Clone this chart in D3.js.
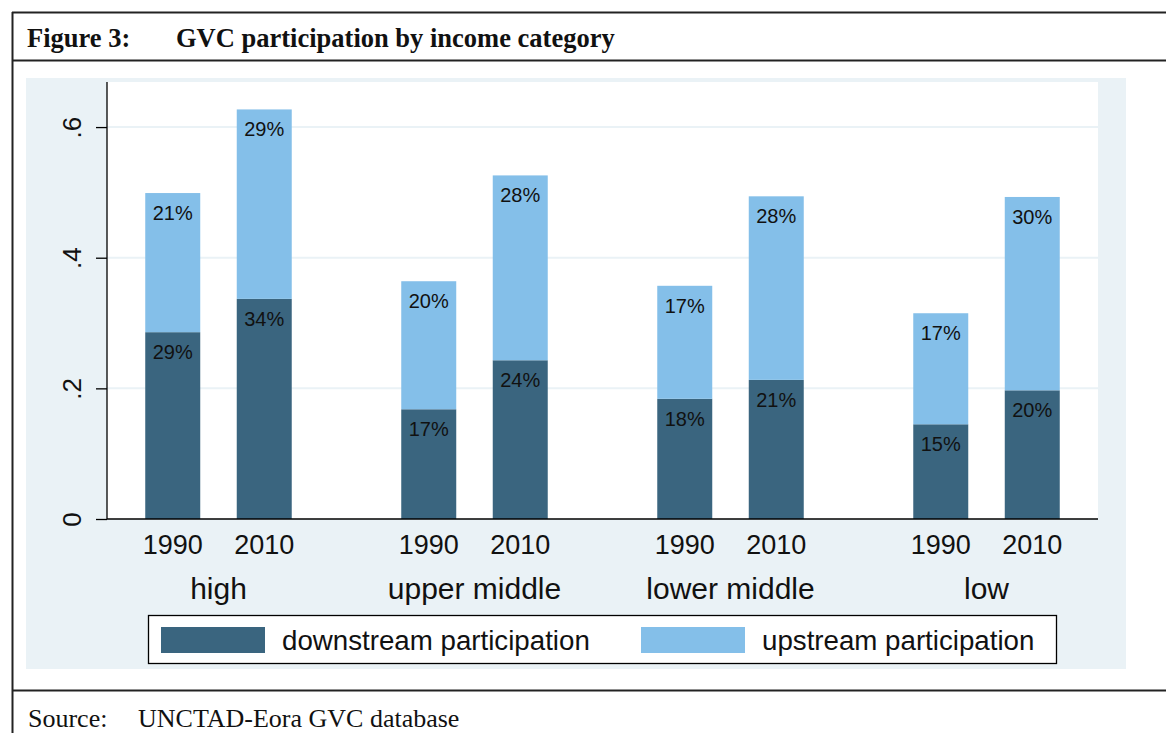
<!DOCTYPE html>
<html>
<head>
<meta charset="utf-8">
<script src="https://cdn.jsdelivr.net/npm/d3@7"></script>
<style>
  html, body { margin: 0; padding: 0; background: #fff; }
  svg { display: block; }
</style>
</head>
<body>
<svg id="chart" width="1166" height="733"></svg>
<script>
const groups = ["high", "upper middle", "lower middle", "low"];
const years = ["1990", "2010"];
// downstream participation (share), by group then year
const downstream = [0.286, 0.337, 0.168, 0.243, 0.184, 0.213, 0.145, 0.197];
// upstream participation (share), by group then year
const upstream = [0.213, 0.290, 0.196, 0.283, 0.173, 0.281, 0.170, 0.296];
const downLabels = ["29%", "34%", "17%", "24%", "18%", "21%", "15%", "20%"];
const upLabels = ["21%", "29%", "20%", "28%", "17%", "28%", "17%", "30%"];
const yTicks = [0, 0.2, 0.4, 0.6];
const yTickLabels = ["0", ".2", ".4", ".6"];
const seriesNames = ["downstream participation", "upstream participation"];

const colDown = "#3a657f";
const colUp = "#84bfe9";
const bgCol = "#eaf2f6";

const svg = d3.select("#chart");

// frame
svg.append("line").attr("x1", 12.5).attr("x2", 12.5).attr("y1", 12).attr("y2", 733).attr("stroke", "#222").attr("stroke-width", 2);
svg.append("line").attr("x1", 12).attr("x2", 1166).attr("y1", 12.5).attr("y2", 12.5).attr("stroke", "#222").attr("stroke-width", 2);
svg.append("line").attr("x1", 12).attr("x2", 1166).attr("y1", 60.5).attr("y2", 60.5).attr("stroke", "#222").attr("stroke-width", 2);
svg.append("line").attr("x1", 12).attr("x2", 1166).attr("y1", 690.5).attr("y2", 690.5).attr("stroke", "#222").attr("stroke-width", 2);

const title = svg.append("g").attr("font-family", "'Liberation Serif', 'Times New Roman', serif")
  .attr("font-weight", "bold").attr("font-size", 26.5).attr("fill", "#111");
title.append("text").attr("x", 27).attr("y", 47).text("Figure 3:");
title.append("text").attr("x", 176).attr("y", 47).text("GVC participation by income category");

const src = svg.append("g").attr("font-family", "'Liberation Serif', 'Times New Roman', serif")
  .attr("font-size", 26).attr("fill", "#111");
src.append("text").attr("x", 28).attr("y", 727).text("Source:");
src.append("text").attr("x", 138).attr("y", 727).text("UNCTAD-Eora GVC database");

// chart background
svg.append("rect").attr("x", 26).attr("y", 78).attr("width", 1100).attr("height", 591).attr("fill", bgCol);

const plot = { left: 107, right: 1098, top: 82, bottom: 519 };
svg.append("rect").attr("x", plot.left).attr("y", plot.top)
  .attr("width", plot.right - plot.left).attr("height", plot.bottom - plot.top).attr("fill", "#fff");

const y = d3.scaleLinear().domain([0, 0.669]).range([plot.bottom, plot.top]);
const x0 = d3.scalePoint().domain(groups).range([plot.left, plot.right]).padding(0.4355);
const x1 = d3.scaleBand().domain(years).range([-91.5, 91.5]).paddingInner(0.399).paddingOuter(0.1995);

// gridlines
svg.append("g").selectAll("line").data(yTicks.filter(t => t > 0)).join("line")
  .attr("x1", plot.left).attr("x2", plot.right)
  .attr("y1", d => y(d)).attr("y2", d => y(d))
  .attr("stroke", bgCol).attr("stroke-width", 2);

// y axis
const yAxis = svg.append("g").attr("transform", `translate(${plot.left},0)`)
  .call(d3.axisLeft(y).tickValues(yTicks).tickSize(11).tickPadding(0).tickFormat((d, i) => yTickLabels[i]));
yAxis.select(".domain").attr("stroke", "#000").attr("stroke-width", 1.3).attr("d", `M0,${plot.top}V${plot.bottom}`);
yAxis.selectAll(".tick line").attr("stroke", "#000").attr("stroke-width", 1.3);
yAxis.selectAll(".tick text").remove();
yAxis.selectAll(".tick").append("text")
  .attr("transform", "translate(-35,0) rotate(-90)")
  .attr("text-anchor", "middle").attr("dominant-baseline", "central")
  .attr("font-family", "'Liberation Sans', Arial, sans-serif").attr("font-size", 26).attr("fill", "#111")
  .text((d, i) => yTickLabels[i]);

// data rows
const rows = [];
groups.forEach((g, gi) => years.forEach((yr, yi) => {
  const k = gi * years.length + yi;
  rows.push({ g, yr, down: downstream[k], up: upstream[k], dl: downLabels[k], ul: upLabels[k] });
}));

const bars = svg.append("g");
const bw = x1.bandwidth();
const bx = d => x0(d.g) + x1(d.yr);

bars.selectAll("rect.down").data(rows).join("rect").attr("class", "down")
  .attr("x", bx).attr("width", bw)
  .attr("y", d => y(d.down)).attr("height", d => y(0) - y(d.down)).attr("fill", colDown);
bars.selectAll("rect.up").data(rows).join("rect").attr("class", "up")
  .attr("x", bx).attr("width", bw)
  .attr("y", d => y(d.down + d.up)).attr("height", d => y(d.down) - y(d.down + d.up)).attr("fill", colUp);

const lab = svg.append("g").attr("font-family", "'Liberation Sans', Arial, sans-serif")
  .attr("font-size", 20).attr("fill", "#111").attr("text-anchor", "middle").attr("dominant-baseline", "central");
lab.selectAll("text.dl").data(rows).join("text").attr("class", "dl")
  .attr("x", d => bx(d) + bw / 2).attr("y", d => y(d.down) + 20).text(d => d.dl);
lab.selectAll("text.ul").data(rows).join("text").attr("class", "ul")
  .attr("x", d => bx(d) + bw / 2).attr("y", d => y(d.down + d.up) + 20).text(d => d.ul);

// x axis line
svg.append("line").attr("x1", plot.left).attr("x2", plot.right)
  .attr("y1", plot.bottom).attr("y2", plot.bottom).attr("stroke", "#000").attr("stroke-width", 1.3);

const xl = svg.append("g").attr("font-family", "'Liberation Sans', Arial, sans-serif").attr("fill", "#111")
  .attr("text-anchor", "middle").attr("dominant-baseline", "central");
xl.selectAll("text.yr").data(rows).join("text").attr("class", "yr")
  .attr("font-size", 27).attr("x", d => bx(d) + bw / 2).attr("y", 545).text(d => d.yr);
xl.selectAll("text.grp").data(groups).join("text").attr("class", "grp")
  .attr("font-size", 30).attr("x", d => x0(d)).attr("y", 588).text(d => d);

// legend
const lg = svg.append("g");
lg.append("rect").attr("x", 148.5).attr("y", 615.5).attr("width", 908).attr("height", 48)
  .attr("fill", "#fff").attr("stroke", "#000").attr("stroke-width", 1.3);
const legendItems = [
  { name: seriesNames[0], color: colDown, sx: 161, tx: 282 },
  { name: seriesNames[1], color: colUp, sx: 641, tx: 762 }
];
lg.selectAll("rect.sw").data(legendItems).join("rect").attr("class", "sw")
  .attr("x", d => d.sx).attr("y", 627).attr("width", 104).attr("height", 26).attr("fill", d => d.color);
lg.selectAll("text").data(legendItems).join("text")
  .attr("x", d => d.tx).attr("y", 640).attr("dominant-baseline", "central")
  .attr("font-family", "'Liberation Sans', Arial, sans-serif").attr("font-size", 27.7).attr("fill", "#111")
  .text(d => d.name);
</script>
</body>
</html>
